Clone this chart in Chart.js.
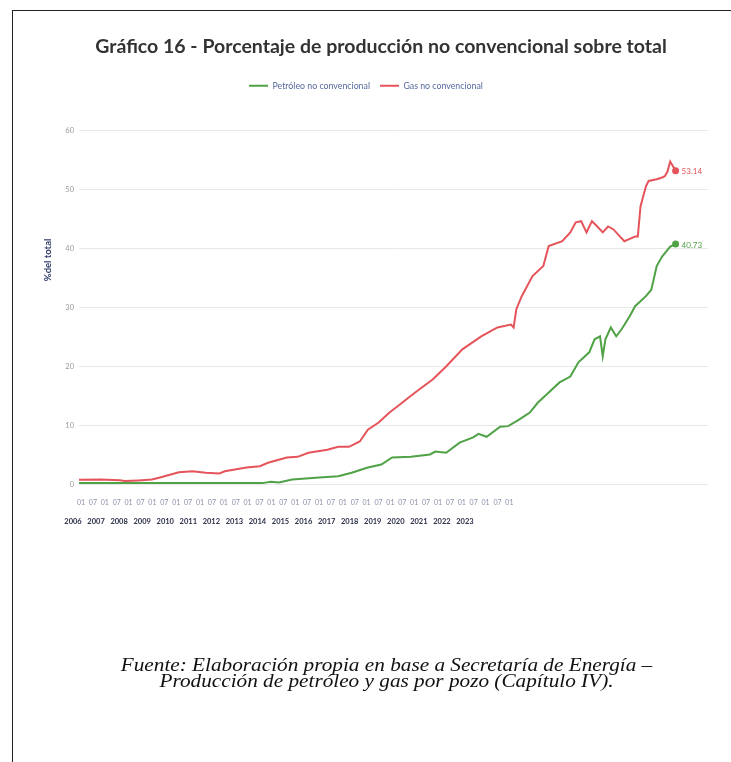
<!DOCTYPE html>
<html><head><meta charset="utf-8">
<script src="https://cdn.jsdelivr.net/npm/chart.js@4.4.1/dist/chart.umd.min.js"></script>
<style>
html,body{margin:0;padding:0;background:#fff;width:731px;height:762px;overflow:hidden;position:relative;}
#wrap{position:absolute;left:0;top:0;width:731px;height:545px;}
#frame{position:absolute;left:12px;top:10px;width:760px;height:800px;border-top:1.5px solid #222;border-left:1.5px solid #222;pointer-events:none;}
#caption{position:absolute;left:21px;width:731px;top:657px;text-align:center;font-family:"Liberation Serif","Times New Roman",serif;font-style:italic;font-size:18px;line-height:16px;color:#111;transform:scaleX(1.18);transform-origin:50% 50%;}
</style></head>
<body>
<div id="wrap"><canvas id="c" width="731" height="545"></canvas></div>
<div id="frame"></div>
<div id="caption">Fuente: Elaboración propia en base a Secretaría de Energía –<br>Producción de petróleo y gas por pozo (Capítulo IV).</div>
<script>
// ---- data ----
const seriesNames = ['Petróleo no convencional', 'Gas no convencional'];
const oilDates = ['2006-01','2008-01','2010-01','2011-09','2011-12','2012-03','2012-08','2013-06','2014-01','2014-06','2014-12','2015-05','2015-09','2016-04','2016-11','2017-01','2017-05','2017-10','2018-03','2018-05','2018-08','2019-01','2019-04','2019-08','2019-12','2020-03','2020-07','2020-11','2021-03','2021-06','2021-10','2021-12','2022-02','2022-03','2022-04','2022-06','2022-08','2022-10','2023-01','2023-03','2023-07','2023-09','2023-11','2024-01','2024-04','2024-06'];
const oilValues = [0.25,0.25,0.25,0.25,0.5,0.35,0.85,1.2,1.4,2.0,2.9,3.4,4.6,4.7,5.1,5.6,5.4,7.1,8.0,8.6,8.1,9.8,9.9,11.0,12.2,13.9,15.6,17.3,18.3,20.7,22.4,24.6,25.1,21.7,24.6,26.6,25.1,26.3,28.5,30.2,31.9,33.0,37.0,38.6,40.3,40.73];
const gasDates = ['2006-01','2006-09','2007-04','2007-06','2007-11','2008-04','2008-07','2008-11','2009-02','2009-07','2009-12','2010-05','2010-07','2011-03','2011-08','2011-11','2012-06','2012-10','2013-02','2013-09','2014-01','2014-05','2014-09','2014-12','2015-04','2015-08','2015-12','2016-03','2016-07','2016-12','2017-05','2017-11','2018-06','2018-12','2019-05','2019-06','2019-07','2019-09','2020-01','2020-05','2020-07','2020-12','2021-03','2021-05','2021-07','2021-09','2021-11','2022-01','2022-03','2022-05','2022-07','2022-09','2022-11','2023-01','2023-03','2023-04','2023-05','2023-07','2023-08','2023-11','2024-01','2024-02','2024-03','2024-04','2024-06'];
const gasValues = [0.8,0.85,0.75,0.6,0.7,0.85,1.2,1.7,2.1,2.25,2.0,1.9,2.25,2.9,3.1,3.7,4.6,4.7,5.4,5.9,6.4,6.4,7.3,9.3,10.5,12.2,13.6,14.7,16.1,17.8,20.0,22.9,25.1,26.6,27.1,26.6,29.7,31.9,35.3,37.0,40.4,41.2,42.7,44.4,44.6,42.7,44.6,43.7,42.7,43.7,43.2,42.2,41.2,41.6,42.0,42.0,47.1,50.5,51.4,51.7,52.0,52.2,53.0,54.7,53.14];
const monthTickLabels = ['01','07','01','07','01','07','01','07','01','07','01','07','01','07','01','07','01','07','01','07','01','07','01','07','01','07','01','07','01','07','01','07','01','07','01','07','01'];
const yearTickLabels = ['2006','2007','2008','2009','2010','2011','2012','2013','2014','2015','2016','2017','2018','2019','2020','2021','2022','2023'];
const yTicks = [0,10,20,30,40,50,60];
const titleText = 'Gráfico 16 - Porcentaje de producción no convencional sobre total';
const yTitleText = '%del total';

const startYear = 2006;
function monthIndex(d){ const [y,m] = d.split('-').map(Number); return (y-startYear)*12 + (m-1); }
function toPoints(dates, vals){ return dates.map((d,i)=>({x: monthIndex(d), y: vals[i]})); }

const GREEN = '#4fa246', RED = '#e5545a';

const endLabels = {
  id: 'endLabels',
  afterDatasetsDraw(chart){
    const ctx = chart.ctx;
    chart.data.datasets.forEach((ds,i)=>{
      const meta = chart.getDatasetMeta(i);
      const pt = meta.data[meta.data.length-1];
      const v = ds.data[ds.data.length-1].y;
      ctx.save();
      ctx.font = '8px Lato';
      ctx.fillStyle = ds.borderColor;
      ctx.textBaseline = 'middle';
      ctx.textAlign = 'left';
      ctx.fillText(v.toFixed(2), pt.x + 6, pt.y + 1);
      ctx.restore();
    });
  }
};
const yTitle = {
  id: 'yTitle',
  afterDraw(chart){
    const ctx = chart.ctx, a = chart.chartArea;
    ctx.save();
    ctx.translate(48, a.top + (a.bottom - a.top) * 0.366);
    ctx.rotate(-Math.PI/2);
    ctx.font = 'bold 9.5px Lato';
    ctx.fillStyle = '#2c3a66';
    ctx.textAlign = 'center';
    ctx.textBaseline = 'middle';
    ctx.fillText(yTitleText, 0, 0);
    ctx.restore();
  }
};
const layoutTweaks = {
  id: 'layoutTweaks',
  beforeInit(chart){
    const fit = chart.legend.fit;
    chart.legend.fit = function(){ fit.bind(chart.legend)(); this.height += 30; };
  },
  afterLayout(chart){
    // the reference title and legend sit a little right of the plot centre
    chart.titleBlock.left = 54;
    chart.legend.left = 24;
  }
};

new Chart(document.getElementById('c'), {
  type: 'line',
  data: {
    datasets: [
      { label: seriesNames[0], data: toPoints(oilDates, oilValues), borderColor: GREEN, backgroundColor: GREEN, borderWidth: 2,
        pointRadius: c => c.dataIndex === oilValues.length-1 ? 2.5 : 0, pointBackgroundColor: GREEN, pointBorderColor: GREEN, pointBorderWidth: 2, tension: 0 },
      { label: seriesNames[1], data: toPoints(gasDates, gasValues), borderColor: RED, backgroundColor: RED, borderWidth: 2,
        pointRadius: c => c.dataIndex === gasValues.length-1 ? 2.5 : 0, pointBackgroundColor: RED, pointBorderColor: RED, pointBorderWidth: 2, tension: 0 }
    ]
  },
  options: {
    responsive: false,
    animation: false,
    layout: { padding: { left: 0, right: 23, top: 0, bottom: 11 } },
    plugins: {
      tooltip: { enabled: false },
      title: { display: true, text: titleText, color: '#333', font: { family: 'Lato', size: 19.5, weight: 'bold' }, padding: { top: 35, bottom: 13 } },
      legend: { display: true, position: 'top', labels: { usePointStyle: true, pointStyle: 'line', pointStyleWidth: 19, boxHeight: 8, padding: 10, color: '#56699e', font: { family: 'Lato', size: 8.8 } } }
    },
    scales: {
      x: { type: 'linear', min: 0, max: 233, display: false },
      xm: { type: 'linear', position: 'bottom', weight: 0, min: 0, max: 52.86,
        grid: { display: false, drawTicks: true, tickLength: 11 }, border: { display: false },
        ticks: { stepSize: 1, autoSkip: false, maxRotation: 0, minRotation: 0, includeBounds: false, labelOffset: 2, padding: 3,
          color: '#8a8fa8', font: { family: 'Lato', size: 7 },
          callback: v => monthTickLabels[v] !== undefined ? monthTickLabels[v] : '' } },
      xy: { type: 'linear', position: 'bottom', weight: 1, min: 0, max: 27.28,
        grid: { display: false, drawTicks: false }, border: { display: false },
        ticks: { stepSize: 1, autoSkip: false, maxRotation: 0, minRotation: 0, includeBounds: false, labelOffset: -6, padding: 7.5,
          color: '#2b2f48', font: { family: 'Lato', size: 7.5, weight: 'bold' },
          callback: v => yearTickLabels[v] !== undefined ? yearTickLabels[v] : '' } },
      y: { type: 'linear', min: yTicks[0], max: yTicks[yTicks.length-1],
        afterFit: s => { s.width = 79; },
        border: { display: false },
        grid: { color: '#e8e8e8', lineWidth: 1, drawTicks: false },
        ticks: { stepSize: 10, padding: 5, color: '#999', font: { family: 'Lato', size: 7.5 } } }
    }
  },
  plugins: [endLabels, yTitle, layoutTweaks]
});
</script>
</body></html>
